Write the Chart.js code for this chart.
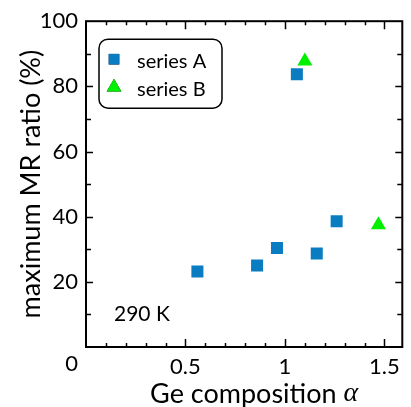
<!DOCTYPE html>
<html>
<head>
<meta charset="utf-8">
<script src="https://cdn.jsdelivr.net/npm/chart.js@4.4.0/dist/chart.umd.min.js"></script>
<style>
  html, body { margin: 0; padding: 0; background: #fff; }
  #wrap { width: 411px; height: 407px; }
</style>
</head>
<body>
<div id="wrap"><canvas id="chart"></canvas></div>
<script>
// data
const seriesNames = ['series A', 'series B'];
const seriesAx = [0.56, 0.86, 0.96, 1.06, 1.16, 1.26];
const seriesAy = [23.2, 25.0, 30.4, 83.7, 28.7, 38.6];
const seriesBx = [1.10, 1.47];
const seriesBy = [87.7, 37.5];
const xTickLabels = ['0', '0.5', '1', '1.5'];
const yTickLabels = ['0', '20', '40', '60', '80', '100'];
const tempLabel = '290 K';
const xTitle = 'Ge composition ';
const xTitleSymbol = 'α';
const yTitle = 'maximum MR ratio (%)';

const BLUE = '#0a7cc2';
const GREEN = '#00f000';
const FONT = 'Lato';

function toPoints(xs, ys) {
    return xs.map((x, i) => ({ x: x, y: ys[i] }));
}

// frame, inward ticks, the lonely "0" and the x title
const framePlugin = {
    id: 'frame',
    beforeDatasetsDraw(chart) {
        const { ctx, chartArea: a, scales } = chart;
        const xs = scales.x, ys = scales.y;
        ctx.save();
        ctx.strokeStyle = '#000';
        ctx.lineWidth = 2;
        ctx.strokeRect(a.left, a.top, a.right - a.left, a.bottom - a.top);

        ctx.lineWidth = 1.5;
        ctx.beginPath();
        for (let i = 1; i * 0.1 < xs.max; i++) {
            const v = i / 10;
            const px = Math.round(xs.getPixelForValue(v)) + 0.5;
            const len = (i % 5 === 0) ? 8 : 4;
            ctx.moveTo(px, a.bottom); ctx.lineTo(px, a.bottom - len);
            ctx.moveTo(px, a.top); ctx.lineTo(px, a.top + len);
        }
        for (let v = 10; v < ys.max; v += 10) {
            const py = Math.round(ys.getPixelForValue(v)) + 0.5;
            const len = (v % 20 === 0) ? 7 : 5;
            ctx.moveTo(a.left, py); ctx.lineTo(a.left + len, py);
            ctx.moveTo(a.right, py); ctx.lineTo(a.right - len, py);
        }
        ctx.stroke();
        ctx.restore();
    },
    afterDraw(chart) {
        const { ctx, chartArea: a } = chart;
        ctx.save();
        ctx.fillStyle = '#000';
        ctx.textBaseline = 'middle';

        // shared origin label
        ctx.font = `22px ${FONT}`;
        ctx.textAlign = 'right';
        ctx.fillText(xTickLabels[0], a.left - 8, a.bottom + 17);

        // temperature note
        ctx.font = `21px ${FONT}`;
        ctx.textAlign = 'left';
        ctx.fillText(tempLabel, a.left + 28, a.bottom - 33);

        // x title with italic alpha
        ctx.font = `27px ${FONT}`;
        const w1 = ctx.measureText(xTitle).width;
        ctx.font = `italic 28px "Liberation Serif"`;
        const w2 = ctx.measureText(xTitleSymbol).width;
        const cx = (a.left + a.right) / 2 + 10;
        const x0 = cx - (w1 + w2) / 2;
        const ty = a.bottom + 47;
        ctx.font = `27px ${FONT}`;
        ctx.fillText(xTitle, x0, ty);
        ctx.font = `italic 28px "Liberation Serif"`;
        ctx.fillText(xTitleSymbol, x0 + w1, ty);
        ctx.restore();
    }
};

// boxed legend inside the plot
const legendBox = {
    id: 'legendBox',
    afterDatasetsDraw(chart) {
        const { ctx, chartArea: a } = chart;
        const bx = a.left + 13, by = a.top + 18, bw = 123, bh = 69;
        ctx.save();
        ctx.strokeStyle = '#000';
        ctx.lineWidth = 1.5;
        ctx.beginPath();
        ctx.roundRect(bx, by, bw, bh, 9);
        ctx.stroke();

        chart.data.datasets.forEach((ds, i) => {
            const rowY = by + 20 + i * 28;
            Chart.helpers.drawPoint(ctx, {
                pointStyle: ds.pointStyle,
                radius: ds.pointStyle === 'triangle' ? 8.5 : 7.5,
                borderWidth: 0
            }, bx + 15, rowY);
            ctx.fillStyle = ds.backgroundColor;
            ctx.fill();
            ctx.fillStyle = '#000';
            ctx.font = `20px ${FONT}`;
            ctx.textAlign = 'left';
            ctx.textBaseline = 'middle';
            ctx.fillText(ds.label, bx + 38, rowY + 2);
        });
        ctx.restore();
    }
};

new Chart(document.getElementById('chart'), {
    type: 'scatter',
    data: {
        datasets: [
            {
                label: seriesNames[0],
                data: toPoints(seriesAx, seriesAy),
                pointStyle: 'rect',
                pointRadius: 8.5,
                pointHoverRadius: 8.5,
                backgroundColor: BLUE,
                borderColor: BLUE,
                borderWidth: 0
            },
            {
                label: seriesNames[1],
                data: toPoints(seriesBx, seriesBy),
                pointStyle: 'triangle',
                pointRadius: 8.7,
                pointHoverRadius: 8.7,
                backgroundColor: GREEN,
                borderColor: GREEN,
                borderWidth: 0
            }
        ]
    },
    options: {
        responsive: true,
        maintainAspectRatio: false,
        animation: false,
        layout: { padding: { left: 0, right: 1, top: 21, bottom: 0 } },
        plugins: {
            legend: { display: false },
            tooltip: { enabled: false }
        },
        scales: {
            x: {
                type: 'linear',
                min: 0,
                max: 1.59,
                grid: { display: false, drawTicks: false },
                border: { display: false },
                afterBuildTicks: (s) => {
                    s.ticks = xTickLabels.map(t => ({ value: parseFloat(t) }));
                },
                afterFit: (s) => { s.height = 60; },
                ticks: {
                    padding: 7,
                    color: '#000',
                    font: { family: FONT, size: 22 },
                    maxRotation: 0,
                    callback: (v) => (v === 0 ? '' : String(v))
                }
            },
            y: {
                type: 'linear',
                min: 0,
                max: 100,
                grid: { display: false, drawTicks: false },
                border: { display: false },
                afterBuildTicks: (s) => {
                    s.ticks = yTickLabels.map(t => ({ value: parseFloat(t) }));
                },
                afterFit: (s) => { s.width = 86; },
                title: {
                    display: true,
                    text: yTitle,
                    color: '#000',
                    font: { family: FONT, size: 27 },
                    padding: { top: 15, bottom: 0 }
                },
                ticks: {
                    padding: 8,
                    color: '#000',
                    font: { family: FONT, size: 22 },
                    callback: (v) => (v === 0 ? '' : String(v))
                }
            }
        }
    },
    plugins: [framePlugin, legendBox]
});
</script>
</body>
</html>
